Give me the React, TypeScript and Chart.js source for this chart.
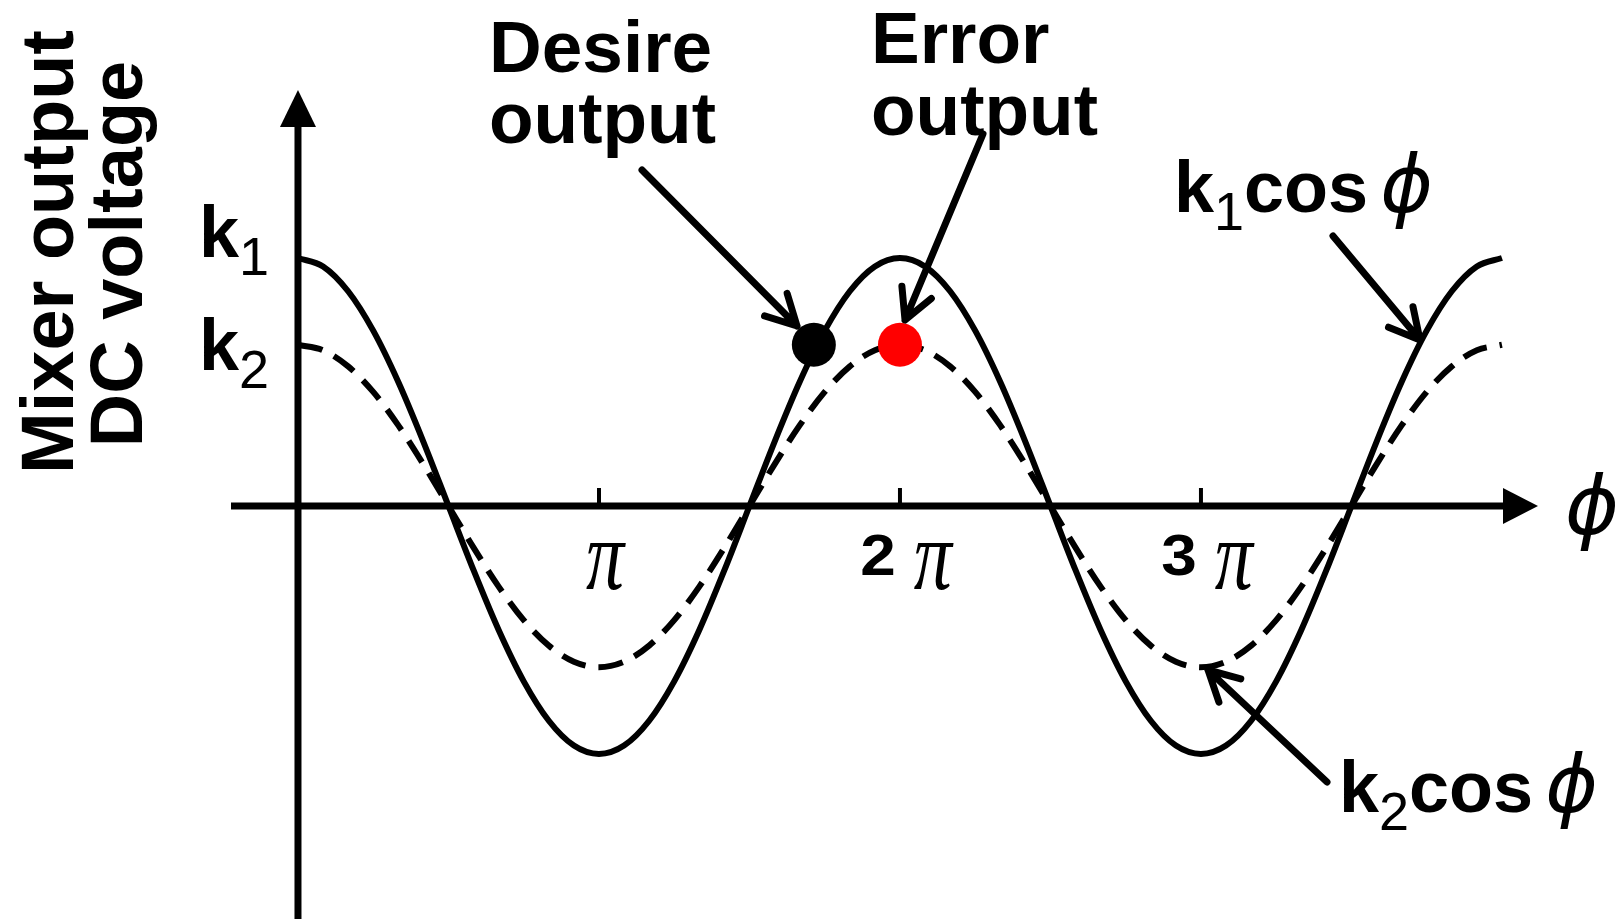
import React, { useEffect, useRef } from 'react';
import Chart from 'chart.js/auto';

// phase in degrees (0 … 4π)
const PHASE_DEG = [0, 15, 30, 45, 60, 75, 90, 105, 120, 135, 150, 165, 180, 195, 210, 225, 240, 255, 270, 285, 300, 315, 330, 345, 360, 375, 390, 405, 420, 435, 450, 465, 480, 495, 510, 525, 540, 555, 570, 585, 600, 615, 630, 645, 660, 675, 690, 705, 720];
// k1·cosφ (solid), normalised to k1 = 1
const K1_COS = [1, 0.966, 0.866, 0.707, 0.5, 0.259, 0, -0.259, -0.5, -0.707, -0.866, -0.966, -1, -0.966, -0.866, -0.707, -0.5, -0.259, 0, 0.259, 0.5, 0.707, 0.866, 0.966, 1, 0.966, 0.866, 0.707, 0.5, 0.259, 0, -0.259, -0.5, -0.707, -0.866, -0.966, -1, -0.966, -0.866, -0.707, -0.5, -0.259, 0, 0.259, 0.5, 0.707, 0.866, 0.966, 1];
// k2·cosφ (dashed)
const K2_COS = [0.65, 0.628, 0.563, 0.46, 0.325, 0.168, 0, -0.168, -0.325, -0.46, -0.563, -0.628, -0.65, -0.628, -0.563, -0.46, -0.325, -0.168, 0, 0.168, 0.325, 0.46, 0.563, 0.628, 0.65, 0.628, 0.563, 0.46, 0.325, 0.168, 0, -0.168, -0.325, -0.46, -0.563, -0.628, -0.65, -0.628, -0.563, -0.46, -0.325, -0.168, 0, 0.168, 0.325, 0.46, 0.563, 0.628, 0.65];
const DESIRE_POINT = [{ x: 308.5, y: 0.65 }];
const ERROR_POINT = [{ x: 360, y: 0.65 }];
const TICK_VALUES = [180, 360, 540];
const TICK_LABELS = ['π', '2π', '3π'];
const LEVEL_LABELS = [['k', '1'], ['k', '2']];

const W = 1618;
const H = 919;

const BOLD = (s: number) => `bold ${s}px "Liberation Sans", Arial, sans-serif`;
const REG = (s: number) => `${s}px "Liberation Sans", Arial, sans-serif`;
const PHI_FONT = (s: number) => `italic ${s}px "DejaVu Sans", sans-serif`;
const PI_FONT = (s: number) => `italic ${s}px "Liberation Serif", serif`;

type Run = { t: string; font: string; dy?: number; gap?: number };

function drawRuns(ctx: CanvasRenderingContext2D, x: number, y: number, runs: Run[]) {
  let cx = x;
  for (const r of runs) {
    cx += r.gap || 0;
    ctx.font = r.font;
    ctx.fillText(r.t, cx, y + (r.dy || 0));
    cx += ctx.measureText(r.t).width;
  }
}

function arrow(ctx: CanvasRenderingContext2D, x1: number, y1: number, x2: number, y2: number) {
  const ang = Math.atan2(y2 - y1, x2 - x1);
  const len = 34;
  const spread = (28 * Math.PI) / 180;
  ctx.beginPath();
  ctx.moveTo(x1, y1);
  ctx.lineTo(x2, y2);
  ctx.moveTo(x2 - len * Math.cos(ang - spread), y2 - len * Math.sin(ang - spread));
  ctx.lineTo(x2, y2);
  ctx.lineTo(x2 - len * Math.cos(ang + spread), y2 - len * Math.sin(ang + spread));
  ctx.stroke();
}

const diagramPlugin = {
  id: 'diagram',
  beforeDatasetsDraw(chart: any) {
    const ctx: CanvasRenderingContext2D = chart.ctx;
    const xs = chart.scales.x;
    const ys = chart.scales.y;
    const x0 = xs.getPixelForValue(0);
    const y0 = ys.getPixelForValue(0);
    ctx.save();
    ctx.strokeStyle = '#000';
    ctx.fillStyle = '#000';
    ctx.lineCap = 'butt';
    // y axis
    ctx.lineWidth = 7;
    ctx.beginPath();
    ctx.moveTo(x0, H);
    ctx.lineTo(x0, 120);
    ctx.stroke();
    ctx.beginPath();
    ctx.moveTo(x0, 90);
    ctx.lineTo(x0 - 18, 127);
    ctx.lineTo(x0 + 18, 127);
    ctx.closePath();
    ctx.fill();
    // x axis
    ctx.beginPath();
    ctx.moveTo(231, y0);
    ctx.lineTo(1510, y0);
    ctx.stroke();
    ctx.beginPath();
    ctx.moveTo(1538, y0);
    ctx.lineTo(1503, y0 - 18);
    ctx.lineTo(1503, y0 + 18);
    ctx.closePath();
    ctx.fill();
    // ticks
    ctx.lineWidth = 4;
    TICK_VALUES.forEach((v) => {
      const tx = xs.getPixelForValue(v);
      ctx.beginPath();
      ctx.moveTo(tx, y0);
      ctx.lineTo(tx, y0 - 18);
      ctx.stroke();
    });
    // tick labels
    ctx.textBaseline = 'alphabetic';
    TICK_VALUES.forEach((v, i) => {
      const lab = TICK_LABELS[i];
      const digit = lab.slice(0, -1);
      const tx = xs.getPixelForValue(v);
      const dsx = 1.12;
      ctx.font = BOLD(57);
      const dw = digit ? ctx.measureText(digit).width * dsx : 0;
      ctx.font = PI_FONT(76);
      const pw = ctx.measureText('π').width;
      const gap = digit ? 18 : 0;
      const total = dw + gap + pw;
      let sx = tx + 6 - total / 2;
      if (digit) {
        ctx.save();
        ctx.translate(sx, 575);
        ctx.scale(dsx, 1);
        ctx.font = BOLD(57);
        ctx.fillText(digit, 0, 0);
        ctx.restore();
        sx += dw + gap;
      }
      ctx.save();
      ctx.translate(sx, 589);
      ctx.scale(1, 1.3);
      ctx.font = PI_FONT(76);
      ctx.fillText('π', 0, 0);
      ctx.restore();
    });
    // phi axis label
    ctx.font = PHI_FONT(82);
    ctx.fillText('ϕ', 1565, 534);
    // level labels
    const levelBase = [257, 370];
    LEVEL_LABELS.forEach((l, i) => {
      drawRuns(ctx, 199, levelBase[i], [
        { t: l[0], font: BOLD(72) },
        { t: l[1], font: REG(54), dy: 18 },
      ]);
    });
    // y title
    ctx.save();
    ctx.rotate(-Math.PI / 2);
    ctx.font = BOLD(74);
    ctx.textAlign = 'center';
    ctx.fillText('Mixer output', -252, 73);
    ctx.fillText('DC voltage', -254, 142);
    ctx.restore();
    ctx.restore();
  },
  afterDatasetsDraw(chart: any) {
    const ctx: CanvasRenderingContext2D = chart.ctx;
    ctx.save();
    ctx.fillStyle = '#000';
    ctx.strokeStyle = '#000';
    ctx.textBaseline = 'alphabetic';
    ctx.font = BOLD(73);
    ctx.fillText('Desire', 489, 72);
    ctx.fillText('output', 489, 143);
    ctx.fillText('Error', 871, 63);
    ctx.fillText('output', 871, 135);
    drawRuns(ctx, 1174, 212, [
      { t: 'k', font: BOLD(72) },
      { t: '1', font: REG(54), dy: 18 },
      { t: 'cos', font: BOLD(72) },
      { t: 'ϕ', font: PHI_FONT(80), gap: 12 },
    ]);
    drawRuns(ctx, 1339, 812, [
      { t: 'k', font: BOLD(72) },
      { t: '2', font: REG(54), dy: 18 },
      { t: 'cos', font: BOLD(72) },
      { t: 'ϕ', font: PHI_FONT(80), gap: 12 },
    ]);
    ctx.lineWidth = 7;
    ctx.lineCap = 'round';
    ctx.lineJoin = 'round';
    arrow(ctx, 642, 170, 797, 326);
    arrow(ctx, 983, 134, 905, 320);
    arrow(ctx, 1333, 236, 1420, 340);
    arrow(ctx, 1327, 782, 1208, 670);
    ctx.restore();
  },
};

export default function App() {
  const ref = useRef<HTMLCanvasElement | null>(null);
  useEffect(() => {
    if (!ref.current) return;
    const chart = new Chart(ref.current, {
      type: 'line',
      data: {
        datasets: [
          {
            label: 'Desire output',
            data: DESIRE_POINT,
            showLine: false,
            pointRadius: 22,
            pointBackgroundColor: '#000',
            pointBorderWidth: 0,
            borderColor: '#000',
            order: 0,
          },
          {
            label: 'Error output',
            data: ERROR_POINT,
            showLine: false,
            pointRadius: 22,
            pointBackgroundColor: '#ff0000',
            pointBorderWidth: 0,
            borderColor: '#ff0000',
            order: 0,
          },
          {
            label: 'k1 cos φ',
            data: PHASE_DEG.map((x, i) => ({ x, y: K1_COS[i] })),
            borderColor: '#000',
            borderWidth: 6,
            pointRadius: 0,
            cubicInterpolationMode: 'monotone',
            fill: false,
            order: 1,
          },
          {
            label: 'k2 cos φ',
            data: PHASE_DEG.map((x, i) => ({ x, y: K2_COS[i] })),
            borderColor: '#000',
            borderWidth: 6,
            borderDash: [25, 13],
            pointRadius: 0,
            cubicInterpolationMode: 'monotone',
            fill: false,
            order: 1,
          },
        ],
      },
      options: {
        responsive: false,
        animation: false,
        devicePixelRatio: 1,
        layout: { padding: 0, autoPadding: false },
        plugins: { legend: { display: false }, tooltip: { enabled: false } },
        events: [],
        scales: {
          x: { type: 'linear', min: -178.2, max: 789.4, display: false },
          y: { type: 'linear', min: -1.6653, max: 2.0403, display: false },
        },
      },
      plugins: [diagramPlugin],
    } as any);
    return () => chart.destroy();
  }, []);
  return (
    <div style={{ position: 'absolute', left: 0, top: 0, width: W, height: H, background: '#fff' }}>
      <canvas ref={ref} width={W} height={H} style={{ width: W, height: H, display: 'block' }} />
    </div>
  );
}
